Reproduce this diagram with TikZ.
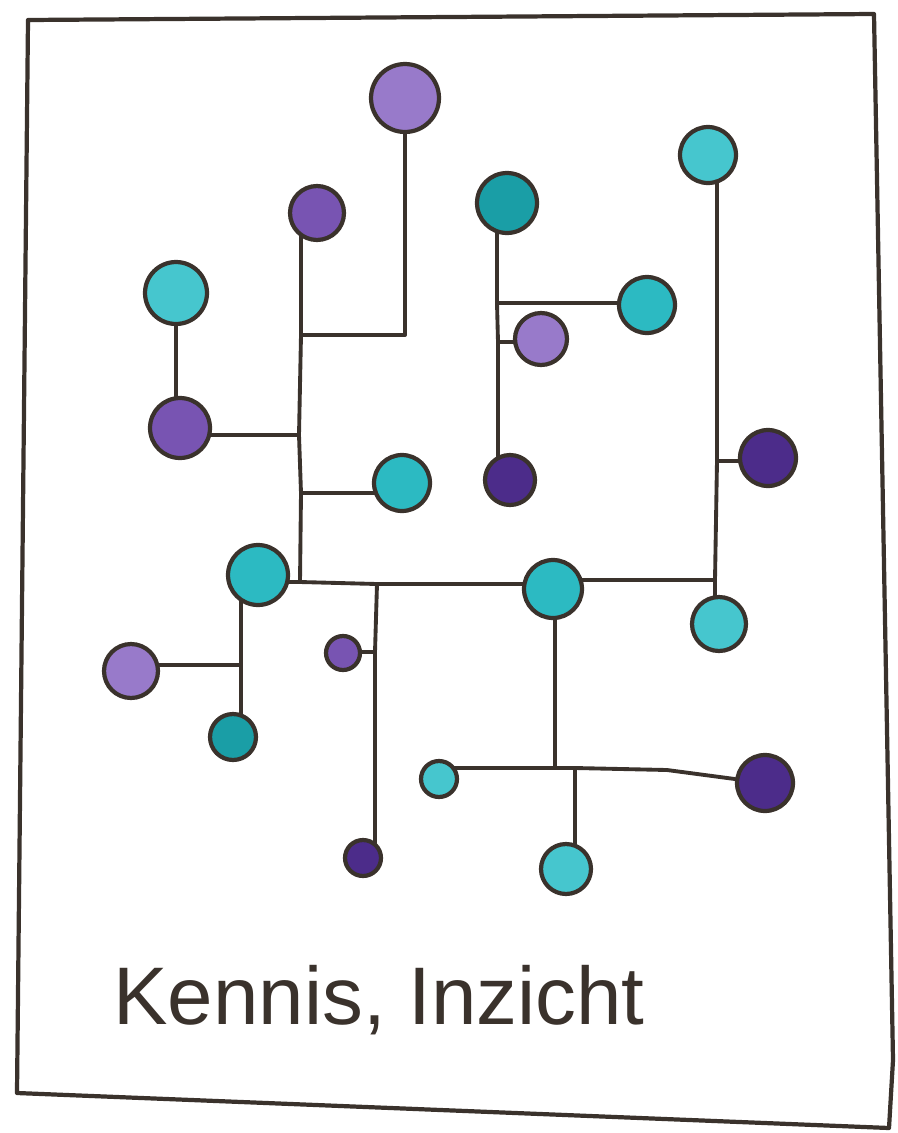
\documentclass[tikz,border=0pt]{standalone}
\usepackage{fontspec}
\setmainfont{Liberation Sans}
\usepackage{xcolor}
\usepackage{tikz}
\usetikzlibrary{positioning,calc}
\pgfdeclarelayer{background}
\pgfsetlayers{background,main}
\definecolor{inkcolor}{RGB}{58,50,44}
\definecolor{lilac}{RGB}{152,122,202}
\definecolor{violet}{RGB}{120,84,178}
\definecolor{plum}{RGB}{76,44,138}
\definecolor{aqua}{RGB}{70,198,206}
\definecolor{cyanish}{RGB}{44,186,194}
\definecolor{tealish}{RGB}{26,158,166}

\begin{document}
\begin{tikzpicture}[
  x=0.02cm, y=-0.02cm,
  dot/.style 2 args={circle, draw=inkcolor, line width=2.4pt, fill=#1,
    inner sep=0pt, minimum size=#2*0.04cm},
  wire/.style={draw=inkcolor, line width=2.2pt, line join=round, line cap=round},
  every node/.style={font=\small}
]
  \useasboundingbox (0,0) rectangle (897,1133);

  % Frame
  \draw[wire, line width=2.4pt] (28,20) -- (874,14) -- (893,1060) -- (889,1128)
    -- (17,1093) -- cycle;

  % Top-left cluster
  \node[dot={lilac}{34}] (p1) at (405,98) {};
  \node[dot={violet}{27}] (p2) at (317,213) {};
  \node[dot={aqua}{31}] (c1) at (176,293) {};
  \node[dot={violet}{30}] (p3) at (180,428) {};
  \node[dot={cyanish}{28}] (c2) at (402,483) {};

  % Top-right cluster
  \node[dot={tealish}{30}] (t1) at (507,203) {};
  \node[dot={aqua}{28}] (c3) at (708,155) {};
  \node[dot={cyanish}{28}] (c4) at (647,305) {};
  \node[dot={lilac}{26}] (p4) at (541,339) {};
  \node[dot={plum}{25}] (p5) at (510,480) {};
  \node[dot={plum}{28}] (p6) at (768,458) {};

  % Lower half
  \node[dot={cyanish}{30}] (c5) at (258,575) {};
  \node[dot={lilac}{27}] (p7) at (131,671) {};
  \node[dot={tealish}{23}] (t2) at (233,737) {};
  \node[dot={violet}{17}] (p8) at (343,653) {};
  \node[dot={plum}{18}] (p9) at (363,858) {};
  \node[dot={aqua}{18}] (c6) at (439,779) {};
  \node[dot={cyanish}{29}] (c7) at (553,589) {};
  \node[dot={aqua}{27}] (c8) at (719,624) {};
  \node[dot={plum}{28}] (p10) at (765,783) {};
  \node[dot={aqua}{25}] (c9) at (566,869) {};

  % Junctions
  \coordinate (jA) at (301,335);
  \coordinate (jB) at (299,435);
  \coordinate (jC) at (301,493);
  \coordinate (jT) at (300,582);
  \coordinate (jD) at (377,584);
  \coordinate (jH) at (375,652);
  \coordinate (jE) at (715,580);
  \coordinate (jF) at (717,461);
  \coordinate (kA) at (497,303);
  \coordinate (kB) at (498,342);
  \coordinate (kL) at (241,665);
  \coordinate (jM) at (555,768);
  \coordinate (jN) at (575,768);
  \coordinate (bend) at (667,770);

  \begin{pgfonlayer}{background}
  % Left trunk
  \draw[wire] (p1) -- (p1 |- jA) -- (jA);
  \draw[wire] (p2 -| jA) -- (jA) -- (jB) -- (jC) -- (jT);
  \draw[wire] (c1) -- (c1 |- p3);
  \draw[wire] (p3 |- jB) -- (jB);
  \draw[wire] (jC) -- (c2 |- jC);

  % Middle branch
  \draw[wire] (t1 -| kA) -- (kA) -- (kB) -- (kB |- p5);
  \draw[wire] (kA) -- (c4 |- kA);
  \draw[wire] (kB) -- (p4 |- kB);

  % Right trunk
  \draw[wire] (c3 -| jF) -- (jF) -- (jE) -- (jE |- c8);
  \draw[wire] (jF) -- (p6 |- jF);

  % Main horizontal line
  \draw[wire] (c5 |- jT) -- (jT) -- (jD) -- (c7 |- jD);
  \draw[wire] (c7 |- jE) -- (jE);
  \draw[wire] (jD) -- (jH) -- (jH |- p9);
  \draw[wire] (jH) -- (p8 |- jH);

  % Lower left
  \draw[wire] (kL |- c5) -- (kL) -- (kL |- t2);
  \draw[wire] (p7 |- kL) -- (kL);

  % Lower right
  \draw[wire] (c7 -| jM) -- (jM);
  \draw[wire] (c6 |- jM) -- (jM) -- (jN) -- (bend) -- (p10);
  \draw[wire] (jN) -- (jN |- c9);
  \end{pgfonlayer}

  % Caption
  \node[anchor=base west, inner sep=0pt, text=inkcolor,
    font=\fontsize{46.5}{56}\selectfont] (caption) at (113,1024) {Kennis, Inzicht};
\end{tikzpicture}
\end{document}
